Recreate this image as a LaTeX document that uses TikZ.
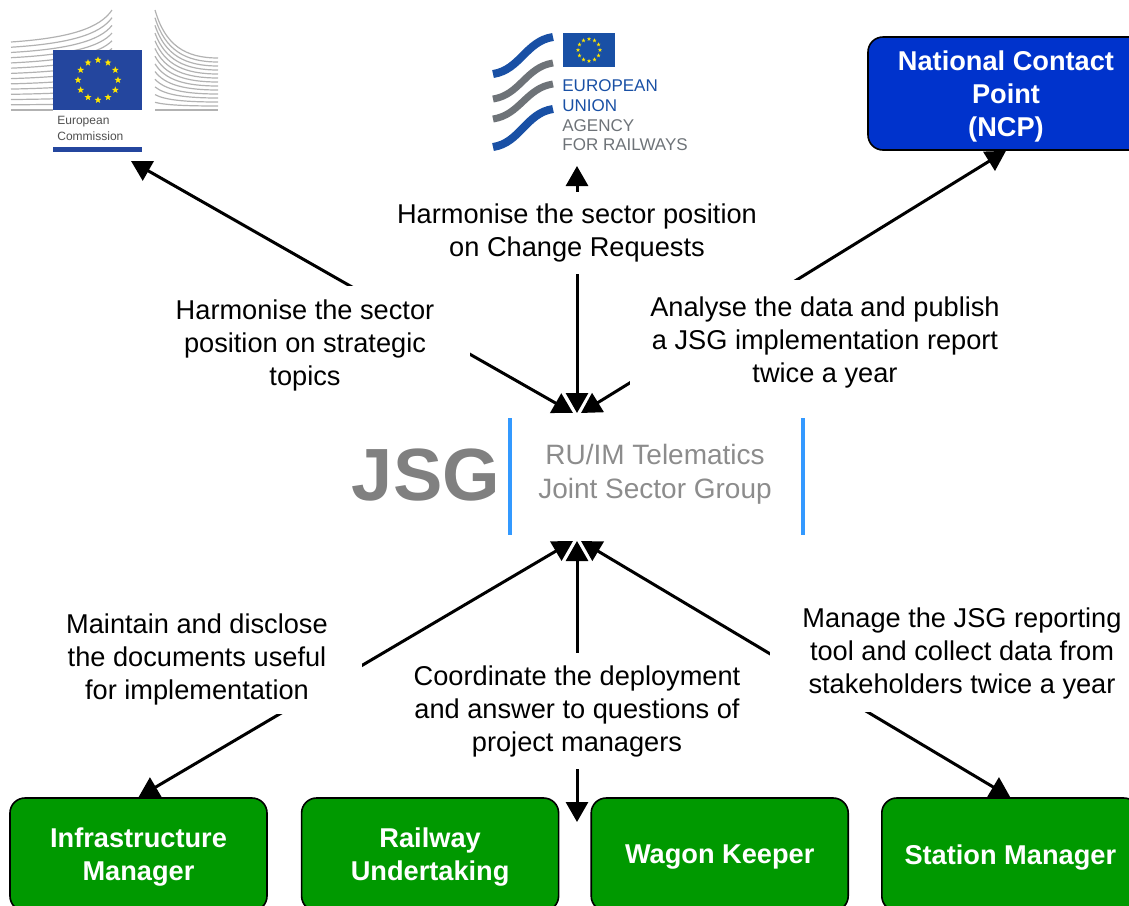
\documentclass[tikz,border=0pt]{standalone}
\usepackage{fontspec}
\setmainfont{Liberation Sans}
\usetikzlibrary{positioning,arrows.meta,shapes.geometric}

\definecolor{ecblue}{RGB}{36,70,158}
\definecolor{ecyellow}{RGB}{255,230,0}
\definecolor{ecgray}{RGB}{178,178,178}
\definecolor{ectext}{RGB}{80,80,80}
\definecolor{erablue}{RGB}{25,80,165}
\definecolor{eragray}{RGB}{110,115,120}
\definecolor{ncpblue}{RGB}{0,51,204}
\definecolor{boxgreen}{RGB}{0,153,0}
\definecolor{jsggray}{RGB}{128,128,128}
\definecolor{subgray}{RGB}{140,140,140}
\definecolor{barblue}{RGB}{51,153,255}

\tikzset{
  arr/.style={{Triangle[length=10pt,width=11pt]}-{Triangle[length=10pt,width=11pt]}, line width=1.5pt},
  lbl/.style={fill=white, align=center, inner sep=0pt, font=\fontsize{13.6}{16.5}\selectfont},
  actor/.style={draw=black, line width=0.8pt, rounded corners=7.5pt, align=center, text=white,
    minimum height=56.5pt, text depth=0pt, font=\fontsize{13.6}{16.5}\selectfont\bfseries},
  gbox/.style={actor, fill=boxgreen, minimum width=128.5pt},
  bbox/.style={actor, fill=ncpblue, minimum width=138pt},
  ecstar/.style={star, star points=5, star point ratio=2.4, fill=ecyellow, inner sep=0pt, minimum size=3.6pt},
  erastar/.style={ecstar, minimum size=2.2pt}
}

\begin{document}
\begin{tikzpicture}[x=0.5pt, y=-0.5pt]
  \useasboundingbox (0,0) rectangle (1129,905);
  \clip (0,0) rectangle (1129,905);

  % European Commission logo
  \foreach \i in {0,...,13}
    \draw[ecgray, line width=0.6pt] (11,{42+\i*68/13}) .. controls (70,{38+\i*72/13}) and (100,{28+\i*82/13}) .. (112,{10+\i*100/13});
  \foreach \i in {0,...,13}
    \draw[ecgray, line width=0.6pt] (155,{10+\i*100/13}) .. controls (165,{45+\i*65/13}) and (185,{58+\i*52/13}) .. (218,{58+\i*52/13});
  \fill[ecblue] (53,50) rectangle (142,110);
  \fill[white] (53,110) rectangle (142,147);
  \fill[ecblue] (53,147) rectangle (142,152);
  \foreach \a in {0,30,...,330}
    \node[ecstar] (ecst\a) at ({98+20*cos(\a)},{80+20*sin(\a)}) {};
  \node[anchor=west, align=left, inner sep=0pt, text=ectext, font=\fontsize{6}{8}\selectfont] (ectxt) at (57,128) {European\\Commission};
  \coordinate (ec) at (131,161);

  % Agency for Railways logo
  \draw[erablue, line width=4pt] (493,74) .. controls (520,70) and (526,41) .. (553,37);
  \draw[eragray, line width=3.5pt] (493,99) .. controls (520,95) and (526,67) .. (553,63);
  \draw[eragray, line width=3.5pt] (493,119) .. controls (520,115) and (526,88) .. (553,84);
  \draw[erablue, line width=4pt] (493,147) .. controls (520,143) and (526,113) .. (553,109);
  \fill[erablue] (563,33) rectangle (615,67);
  \foreach \a in {0,30,...,330}
    \node[erastar] (erast\a) at ({589+11*cos(\a)},{50+11*sin(\a)}) {};
  \node[anchor=west, align=left, inner sep=0pt, font=\fontsize{8.5}{9.85}\selectfont] (eratxt) at (562,115.5)
    {\textcolor{erablue}{EUROPEAN}\\\textcolor{erablue}{UNION}\\\textcolor{eragray}{AGENCY}\\\textcolor{eragray}{FOR RAILWAYS}};
  \coordinate (era) at (577,166);

  \node[bbox] (ncp) at (1006,93.5) {National Contact\\Point\\(NCP)};

  % JSG
  \node[inner sep=0pt, text=jsggray, font=\fontsize{37}{40}\selectfont\bfseries] (jsg) at (426,475) {JSG};
  \draw[barblue, line width=2pt] (510,418) -- (510,535);
  \draw[barblue, line width=2pt] (803,418) -- (803,535);
  \node[align=center, inner sep=0pt, text=subgray, font=\fontsize{14}{17}\selectfont] (jsgsub) at (655,474) {RU/IM Telematics\\Joint Sector Group};
  \coordinate (jsgN) at (577,413);
  \coordinate (jsgS) at (577,541);

  % stakeholders
  \node[gbox] (im) at (138.5,854.5) {Infrastructure\\Manager};
  \node[gbox, right=16.5pt of im] (ru) {Railway\\Undertaking};
  \node[gbox, right=15.5pt of ru] (wk) {Wagon Keeper};
  \node[gbox, right=16pt of wk] (sm) {Station Manager};
  \coordinate (gap) at (577,822);

  \draw[arr] (ec) -- ([xshift=-2pt]jsgN);
  \draw[arr] (era) -- (jsgN);
  \draw[arr] (ncp.south) -- ([xshift=2pt]jsgN);
  \draw[arr] ([xshift=-2pt]jsgS) -- (im.north);
  \draw[arr] (jsgS) -- (gap);
  \draw[arr] ([xshift=2pt]jsgS) -- (sm.north);

  \node[lbl, minimum width=165pt, minimum height=59pt] (topicslbl) at (305,345) {Harmonise the sector\\position on strategic\\topics};
  \node[lbl, minimum height=41pt] (crlbl) at (577,233) {Harmonise the sector position\\on Change Requests};
  \node[lbl, minimum width=195pt, minimum height=62pt] (reportlbl) at (825,342) {Analyse the data and publish\\a JSG implementation report\\twice a year};
  \node[lbl, minimum width=165pt, minimum height=55pt] (docslbl) at (197,659) {Maintain and disclose\\the documents useful\\for implementation};
  \node[lbl, minimum height=58pt] (deplbl) at (577,711) {Coordinate the deployment\\and answer to questions of\\project managers};
  \node[lbl, minimum width=192pt, minimum height=59pt] (toollbl) at (962,653) {Manage the JSG reporting\\tool and collect data from\\stakeholders twice a year};
\end{tikzpicture}
\end{document}
